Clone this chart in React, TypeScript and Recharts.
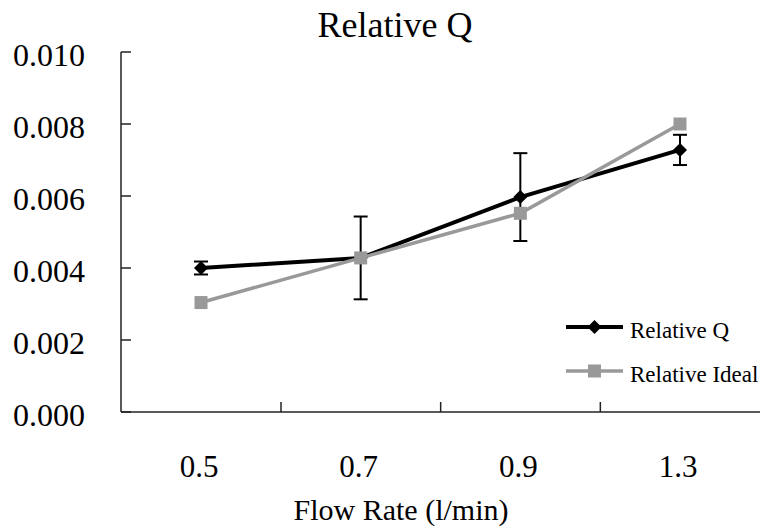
import React from 'react';
import { LineChart, Line, XAxis, YAxis, ErrorBar } from 'recharts';

const flowRates = ['0.5', '0.7', '0.9', '1.3'];
const relativeQ = [0.004, 0.00428, 0.00597, 0.00728];
const relativeQError = [0.00018, 0.00115, 0.00122, 0.00042];
const relativeIdeal = [0.00304, 0.00428, 0.00552, 0.008];
const yTicks = [0, 0.002, 0.004, 0.006, 0.008, 0.01];

const chartData = flowRates.map((flow, i) => ({
  flow,
  q: relativeQ[i],
  qErr: relativeQError[i],
  ideal: relativeIdeal[i],
}));

const FONT = 'Liberation Serif, Times New Roman, serif';
const BLACK = '#000000';
const GRAY = '#999999';
const AXIS = '#222222';

const PLOT_LEFT = 121;
const PLOT_BOTTOM = 412;
const HALF_STEP = 80;

const YTick = (props: any) => {
  const { y, payload } = props;
  return (
    <g>
      <line x1={PLOT_LEFT} x2={PLOT_LEFT + 10} y1={y} y2={y} stroke={AXIS} strokeWidth={1.5} />
      <text x={13} y={y} dy={14} fontSize={32} fontFamily={FONT} fill="#000">
        {Number(payload.value).toFixed(3)}
      </text>
    </g>
  );
};

const XTick = (props: any) => {
  const { x, payload, index } = props;
  return (
    <g>
      {index < flowRates.length - 1 && (
        <line
          x1={x + HALF_STEP}
          x2={x + HALF_STEP}
          y1={PLOT_BOTTOM - 10}
          y2={PLOT_BOTTOM}
          stroke={AXIS}
          strokeWidth={1.5}
        />
      )}
      <text x={x - 2} y={477} textAnchor="middle" fontSize={31} fontFamily={FONT} fill="#000">
        {payload.value}
      </text>
    </g>
  );
};

const DiamondDot = (props: any) => {
  const { cx, cy, index } = props;
  const r = 7;
  return (
    <polygon
      key={`d-${index}`}
      points={`${cx},${cy - r} ${cx + r},${cy} ${cx},${cy + r} ${cx - r},${cy}`}
      fill={BLACK}
    />
  );
};

const SquareDot = (props: any) => {
  const { cx, cy, index } = props;
  const s = 13;
  return <rect key={`s-${index}`} x={cx - s / 2} y={cy - s / 2} width={s} height={s} fill={GRAY} />;
};

// legend drawn in svg so it uses the same serif font as the axes
const legendItems = [
  { label: 'Relative Q', color: BLACK, marker: 'diamond', y: 327 },
  { label: 'Relative Ideal', color: GRAY, marker: 'square', y: 371 },
];

const ChartLegend = () => (
  <g>
    {legendItems.map((item) => (
      <g key={item.label}>
        <line
          x1={566}
          x2={623}
          y1={item.y}
          y2={item.y}
          stroke={item.color}
          strokeWidth={item.marker === 'diamond' ? 4 : 3.5}
        />
        {item.marker === 'diamond' ? (
          <polygon
            points={`594.5,${item.y - 7} 601.5,${item.y} 594.5,${item.y + 7} 587.5,${item.y}`}
            fill={item.color}
          />
        ) : (
          <rect x={588} y={item.y - 6.5} width={13} height={13} fill={item.color} />
        )}
        <text x={630} y={item.y + 11} fontSize={23} fontFamily={FONT} fill="#000">
          {item.label}
        </text>
      </g>
    ))}
  </g>
);

const App = () => {
  return (
    <div style={{ position: 'absolute', left: 0, top: 0, width: 760, height: 530, background: '#fff' }}>
      <LineChart width={760} height={530} data={chartData} margin={{ top: 52, right: 0, left: 0, bottom: 0 }}>
        <text x={395} y={37} textAnchor="middle" fontSize={36} fontFamily={FONT} fill="#000">
          Relative Q
        </text>
        <text x={401} y={520} textAnchor="middle" fontSize={30} fontFamily={FONT} fill="#000">
          Flow Rate (l/min)
        </text>
        <XAxis
          dataKey="flow"
          padding={{ left: HALF_STEP, right: HALF_STEP }}
          height={530 - 52 - 360}
          tickLine={false}
          axisLine={{ stroke: AXIS, strokeWidth: 1.5 }}
          tick={<XTick />}
          interval={0}
        />
        <YAxis
          width={PLOT_LEFT}
          domain={[0, 0.01]}
          ticks={yTicks}
          tickLine={false}
          axisLine={{ stroke: AXIS, strokeWidth: 1.5 }}
          tick={<YTick />}
          interval={0}
        />
        <ChartLegend />
        <Line
          dataKey="q"
          name="Relative Q"
          stroke={BLACK}
          strokeWidth={4}
          dot={(p: any) => <DiamondDot {...p} />}
          isAnimationActive={false}
        >
          <ErrorBar dataKey="qErr" direction="y" width={7} stroke={BLACK} strokeWidth={2} isAnimationActive={false} />
        </Line>
        <Line
          dataKey="ideal"
          name="Relative Ideal"
          stroke={GRAY}
          strokeWidth={3.5}
          dot={(p: any) => <SquareDot {...p} />}
          isAnimationActive={false}
        />
      </LineChart>
    </div>
  );
};

export default App;
